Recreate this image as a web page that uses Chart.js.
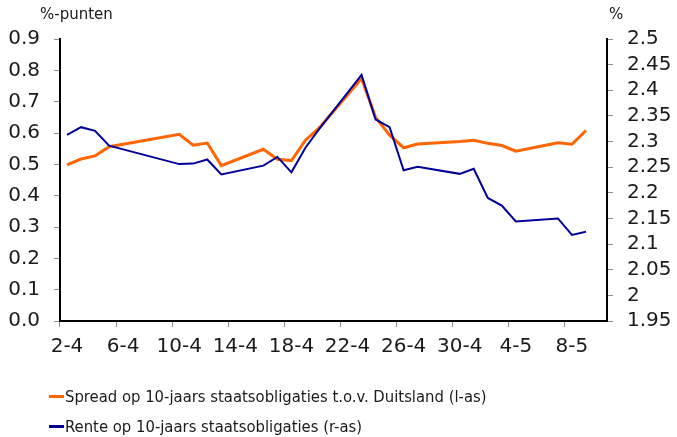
<!DOCTYPE html>
<html>
<head>
<meta charset="utf-8">
<script src="https://cdn.jsdelivr.net/npm/chart.js@4"></script>
<style>
  body { margin: 0; background: #fff; }
  #wrap { position: relative; width: 677px; height: 437px; font-family: "DejaVu Sans", Verdana, sans-serif; color: #1a1a1a; }
  #chart { position: absolute; left: 0; top: 0; }
  .axis-title { position: absolute; font-size: 15px; }
  .legend { position: absolute; left: 49px; font-family: "DejaVu Sans Condensed", "DejaVu Sans", sans-serif; font-size: 16.5px; }
  .legend div { height: 30px; line-height: 30px; white-space: nowrap; }
  .legend span { display: inline-block; width: 15px; height: 3px; vertical-align: middle; margin-right: 1px; position: relative; top: -1px; }
</style>
</head>
<body>
<div id="wrap">
  <canvas id="chart" width="677" height="437"></canvas>
  <div class="axis-title" style="left:40px; top:5px;">%-punten</div>
  <div class="axis-title" style="left:609px; top:5px;">%</div>
  <div class="legend" style="top:382px;">
    <div><span style="background:#ff6600"></span>Spread op 10-jaars staatsobligaties t.o.v. Duitsland (l-as)</div>
    <div><span style="background:#000099"></span>Rente op 10-jaars staatsobligaties (r-as)</div>
  </div>
</div>
<script>
// daily categories, 2 April - 10 May (weekends / holidays are null)
const dates = [
  "2-4", "3-4", "4-4", "5-4", "6-4", "7-4", "8-4", "9-4", "10-4", "11-4",
  "12-4", "13-4", "14-4", "15-4", "16-4", "17-4", "18-4", "19-4", "20-4", "21-4",
  "22-4", "23-4", "24-4", "25-4", "26-4", "27-4", "28-4", "29-4", "30-4", "1-5",
  "2-5", "3-5", "4-5", "5-5", "6-5", "7-5", "8-5", "9-5", "10-5"
];

// spread vs Germany, %-points (left axis)
const spread = [
  0.498, 0.517, 0.527, 0.556, null, null, null, null, 0.596, 0.561,
  0.568, 0.496, null, null, 0.548, 0.516, 0.512, 0.577, 0.617, null,
  null, 0.774, 0.650, 0.593, 0.553, 0.565, null, null, 0.573, 0.577,
  0.567, 0.560, 0.542, null, null, 0.569, 0.564, 0.608, null
];

// 10y yield, % (right axis)
const rente = [
  2.313, 2.328, 2.321, 2.292, null, null, null, null, 2.256, 2.257,
  2.265, 2.236, null, null, 2.253, 2.270, 2.240, 2.288, 2.325, null,
  null, 2.430, 2.343, 2.328, 2.244, 2.251, null, null, 2.237, 2.247,
  2.190, 2.175, 2.144, null, null, 2.150, 2.118, 2.124, null
];

const leftTicks = [0, 0.1, 0.2, 0.3, 0.4, 0.5, 0.6, 0.7, 0.8, 0.9];
const rightTicks = [1.95, 2, 2.05, 2.1, 2.15, 2.2, 2.25, 2.3, 2.35, 2.4, 2.45, 2.5];

const tickFont = { family: "'DejaVu Sans', Verdana, sans-serif", size: 20 };
const tickGray = "#8c8c8c";

new Chart(document.getElementById("chart"), {
  type: "line",
  data: {
    labels: dates,
    datasets: [
      {
        label: "Spread op 10-jaars staatsobligaties t.o.v. Duitsland (l-as)",
        data: spread,
        borderColor: "#ff6600",
        borderWidth: 3,
        pointRadius: 0,
        spanGaps: true,
        tension: 0,
        yAxisID: "y",
        order: 1,
      },
      {
        label: "Rente op 10-jaars staatsobligaties (r-as)",
        data: rente,
        borderColor: "#000099",
        borderWidth: 2,
        pointRadius: 0,
        spanGaps: true,
        tension: 0,
        yAxisID: "y2",
        order: 0,
      },
    ],
  },
  options: {
    responsive: false,
    animation: false,
    layout: { padding: { top: 39, bottom: 76, left: 0, right: 0 } },
    plugins: { legend: { display: false }, tooltip: { enabled: false } },
    scales: {
      x: {
        type: "category",
        offset: true,
        grid: {
          offset: true,
          drawOnChartArea: false,
          tickLength: 6,
          color: (ctx) => (ctx.index % 4 === 0 ? tickGray : "rgba(0,0,0,0)"),
        },
        border: { color: "#000", width: 2 },
        ticks: {
          autoSkip: false,
          maxRotation: 0,
          padding: 8,
          color: "#1a1a1a",
          font: tickFont,
          callback: function (value, index) {
            return index % 4 === 0 ? dates[index] : "";
          },
        },
        afterFit: (scale) => { scale.height = 40; },
      },
      y: {
        position: "left",
        min: 0,
        max: 0.9,
        afterBuildTicks: (scale) => { scale.ticks = leftTicks.map((v) => ({ value: v })); },
        grid: { drawOnChartArea: false, tickLength: 6, color: tickGray },
        border: { color: "#000", width: 2 },
        ticks: {
          autoSkip: false,
          padding: 14,
          color: "#1a1a1a",
          font: tickFont,
          callback: (v) => v.toFixed(1),
        },
        afterFit: (scale) => { scale.width = 60; },
      },
      y2: {
        position: "right",
        min: 1.95,
        max: 2.5,
        afterBuildTicks: (scale) => { scale.ticks = rightTicks.map((v) => ({ value: v })); },
        grid: { drawOnChartArea: false, tickLength: 6, color: tickGray },
        border: { color: "#000", width: 2 },
        ticks: {
          autoSkip: false,
          padding: 14,
          color: "#1a1a1a",
          font: tickFont,
          callback: (v) => String(parseFloat(v.toFixed(2))),
        },
        afterFit: (scale) => { scale.width = 70; },
      },
    },
  },
});
</script>
</body>
</html>
